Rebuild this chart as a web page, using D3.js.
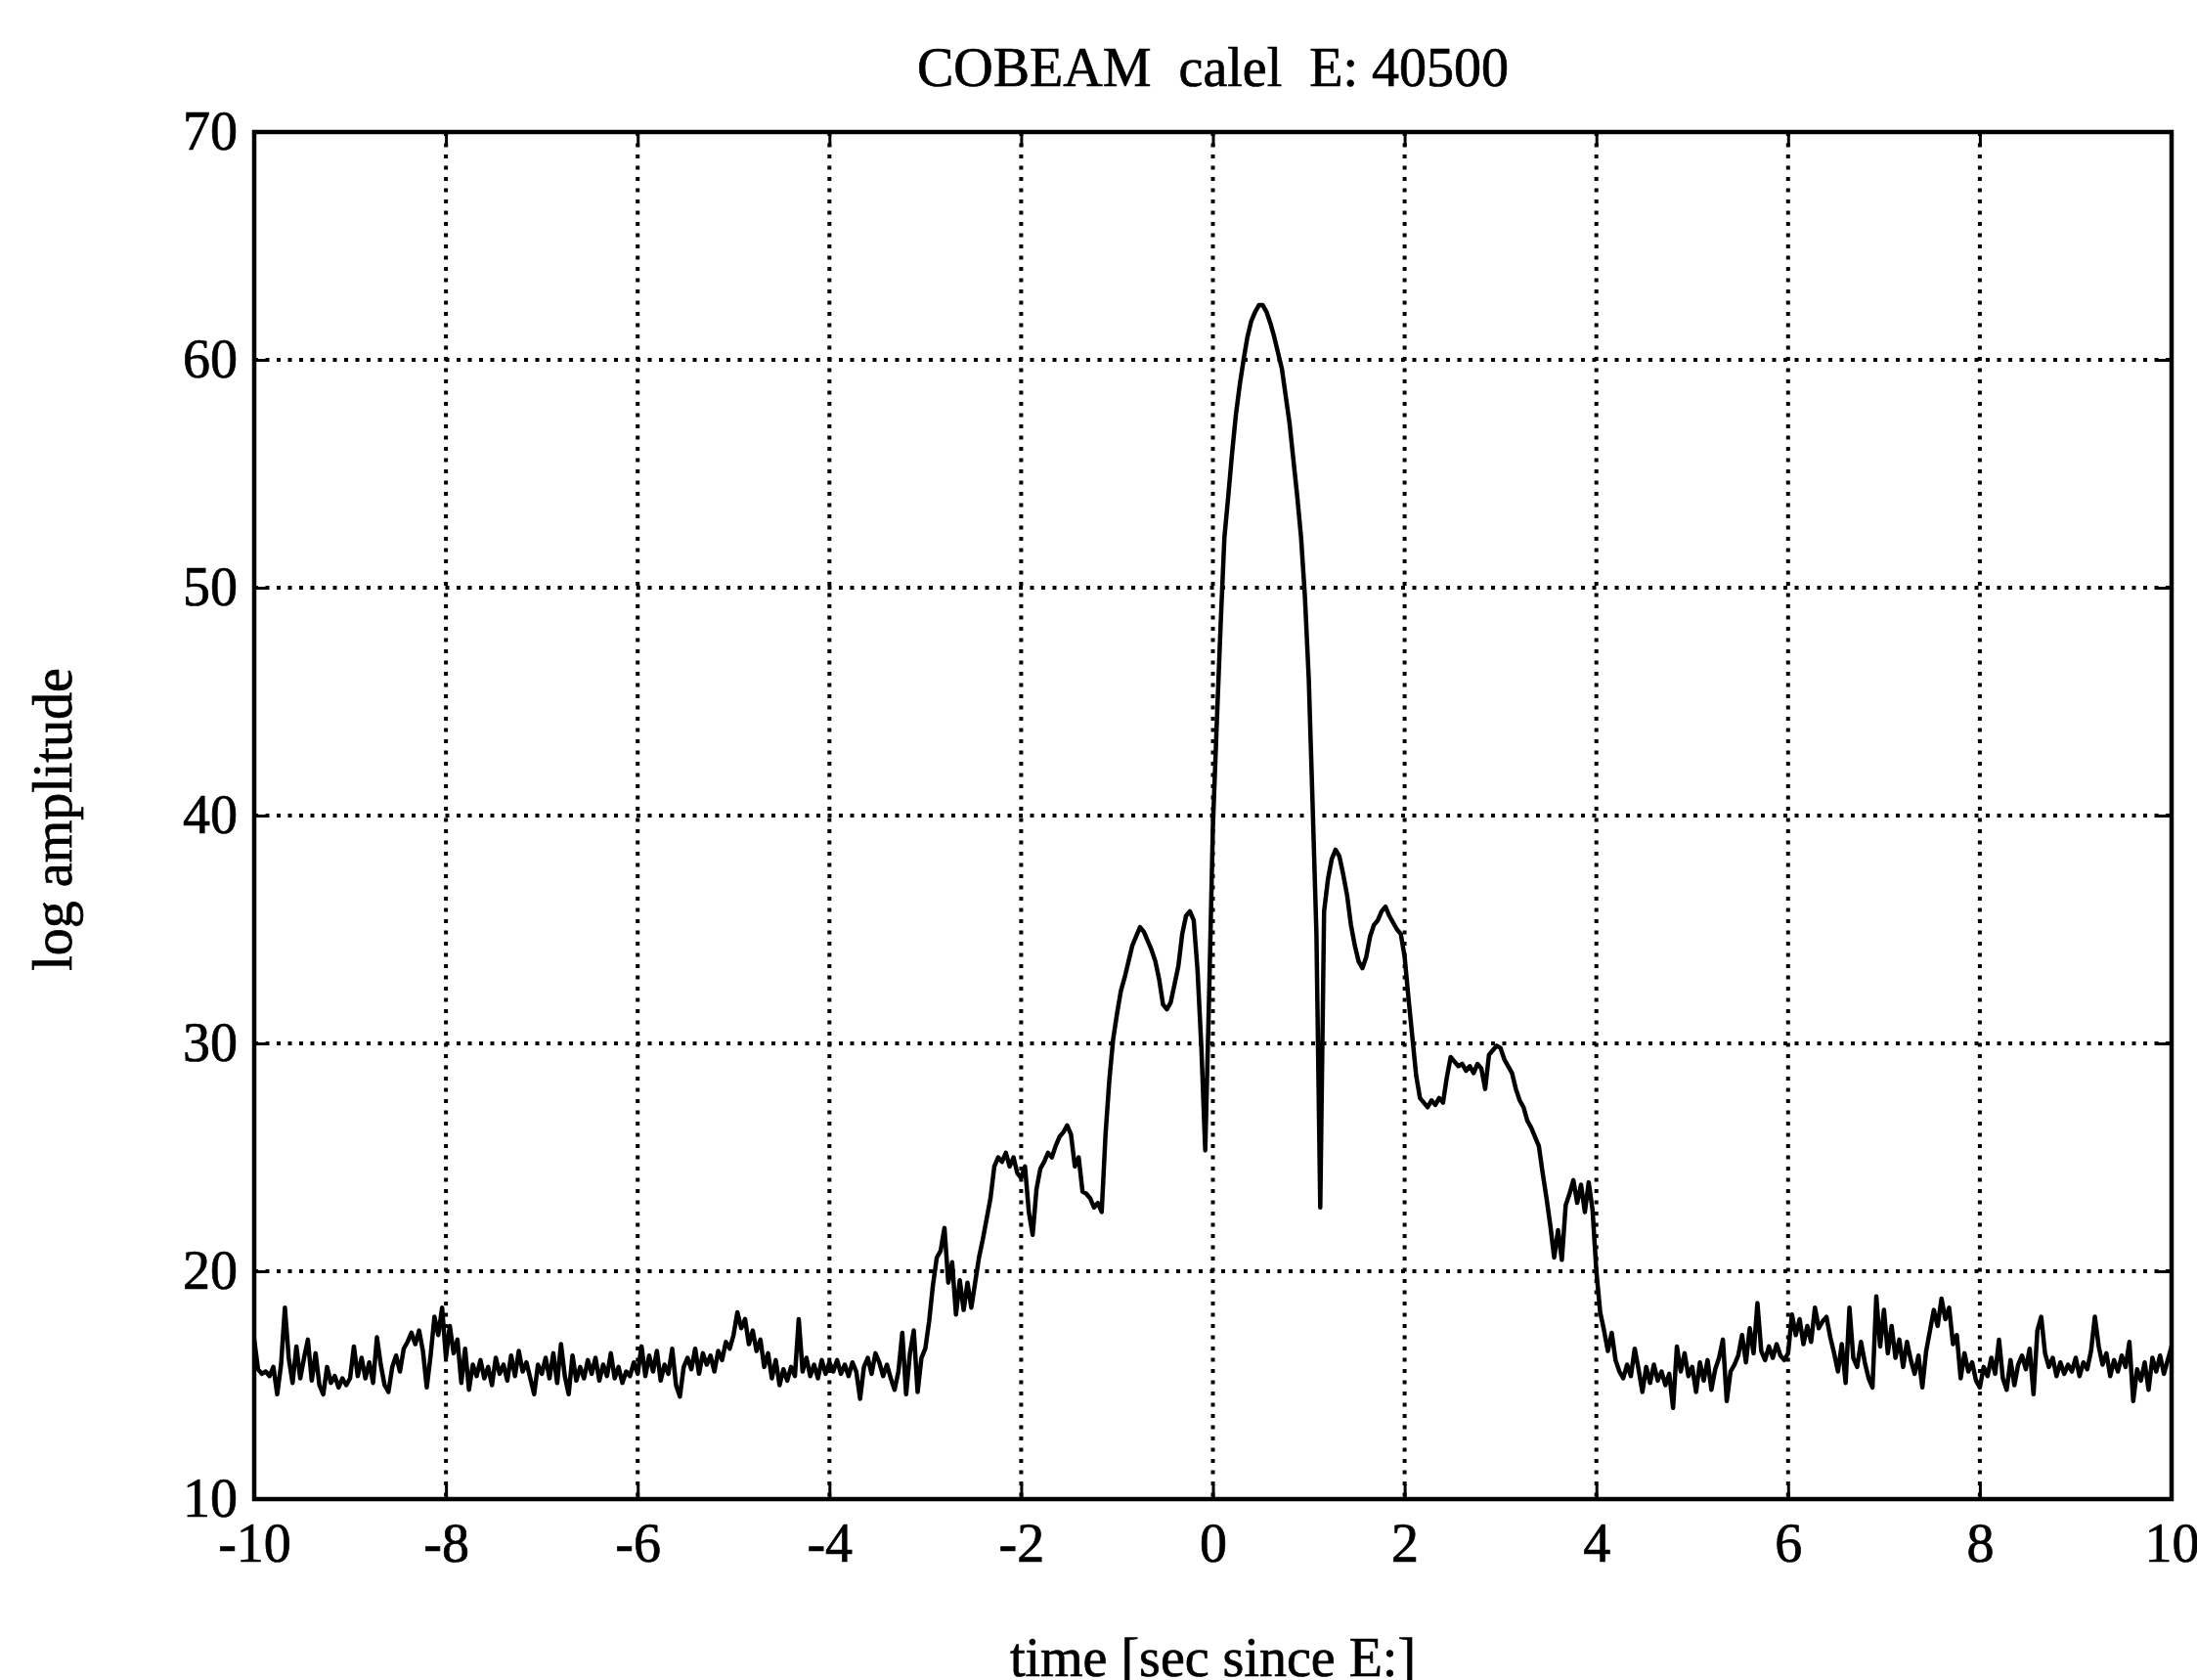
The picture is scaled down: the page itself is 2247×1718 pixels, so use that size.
<!DOCTYPE html>
<html>
<head>
<meta charset="utf-8">
<script src="https://cdnjs.cloudflare.com/ajax/libs/d3/7.8.5/d3.min.js"></script>
<style>
  body { margin: 0; background: #fff; }
  svg text { font-family: "Liberation Serif", "Times New Roman", serif; fill: #000; stroke: #000; stroke-width: 0.7px; }
</style>
</head>
<body>
<div id="chart-area"></div>
<script>

const t0 = -10, dt = 0.04;

const amp = [
    17.0, 15.7, 15.5, 15.6, 15.4, 15.8, 14.6, 15.9, 18.4, 16.2, 15.1, 16.7, 15.3, 16.2, 17.0, 15.2, 16.4, 15.0, 14.6, 15.8, 15.1, 15.4, 14.9, 15.3, 15.0,
    15.3, 16.7, 15.4, 16.2, 15.3, 16.0, 15.1, 17.1, 15.9, 15.0, 14.7, 15.8, 16.3, 15.6, 16.6, 16.9, 17.3, 16.8, 17.4, 16.5, 14.9, 16.3, 18.0, 17.2, 18.4,
    16.2, 17.6, 16.4, 17.0, 15.1, 16.6, 14.8, 15.9, 15.4, 16.1, 15.3, 15.8, 15.0, 16.2, 15.5, 15.9, 15.2, 16.3, 15.4, 16.5, 15.6, 16.0, 15.3, 14.6, 15.9,
    15.5, 16.2, 15.3, 16.4, 15.1, 16.8, 15.4, 14.6, 16.3, 15.2, 15.8, 15.3, 16.1, 15.5, 16.2, 15.2, 15.9, 15.4, 16.4, 15.3, 15.8, 15.1, 15.6, 15.4, 16.0,
    15.5, 16.7, 15.4, 16.3, 15.6, 16.5, 15.2, 15.9, 15.5, 16.6, 15.0, 14.5, 15.8, 16.2, 15.7, 16.6, 15.5, 16.4, 15.9, 16.3, 15.6, 16.5, 16.1, 16.9, 16.6,
    17.2, 18.2, 17.5, 17.9, 16.8, 17.4, 16.5, 17.0, 15.8, 16.4, 15.3, 16.1, 15.0, 15.7, 15.2, 15.8, 15.4, 17.9, 15.6, 16.2, 15.4, 15.9, 15.3, 16.1, 15.5,
    16.0, 15.6, 16.1, 15.5, 15.9, 15.4, 16.0, 15.6, 14.4, 15.8, 16.2, 15.5, 16.4, 16.0, 15.4, 15.9, 15.3, 14.8, 15.6, 17.3, 14.6, 16.4, 17.4, 14.7, 16.2,
    16.6, 17.8, 19.4, 20.6, 20.9, 21.9, 19.5, 20.4, 18.1, 19.6, 18.3, 19.5, 18.4, 19.5, 20.6, 21.4, 22.3, 23.2, 24.6, 25.0, 24.8, 25.2, 24.6, 25.0, 24.3,
    24.1, 24.6, 22.6, 21.6, 23.6, 24.5, 24.8, 25.2, 25.0, 25.5, 25.9, 26.1, 26.4, 26.0, 24.6, 25.0, 23.5, 23.4, 23.2, 22.8, 23.0, 22.6, 26.0, 28.4, 30.2,
    31.3, 32.3, 32.9, 33.6, 34.3, 34.7, 35.1, 34.9, 34.5, 34.1, 33.6, 32.8, 31.7, 31.5, 31.8, 32.6, 33.4, 34.8, 35.6, 35.8, 35.4, 33.2, 29.8, 25.3, 32.0,
    39.5, 44.0, 48.3, 52.2, 54.0, 55.9, 57.6, 58.9, 60.0, 61.0, 61.7, 62.1, 62.4, 62.4, 62.1, 61.6, 61.0, 60.3, 59.6, 58.4, 57.2, 55.6, 54.0, 52.2, 49.6,
    46.0, 40.5, 34.8, 22.8, 35.8, 37.2, 38.1, 38.5, 38.2, 37.4, 36.5, 35.2, 34.3, 33.6, 33.3, 33.8, 34.7, 35.2, 35.4, 35.8, 36.0, 35.6, 35.3, 35.0, 34.8,
    33.8, 32.0, 30.3, 28.6, 27.6, 27.4, 27.2, 27.5, 27.3, 27.6, 27.4, 28.5, 29.4, 29.2, 29.0, 29.1, 28.8, 29.0, 28.7, 29.1, 28.9, 28.0, 29.5, 29.7, 29.9,
    29.8, 29.3, 29.0, 28.7, 28.0, 27.5, 27.2, 26.6, 26.3, 25.9, 25.5, 24.3, 23.2, 22.0, 20.6, 21.8, 20.5, 22.9, 23.4, 24.0, 23.0, 23.8, 22.6, 23.9, 22.7,
    20.0, 18.2, 17.4, 16.5, 17.3, 16.1, 15.6, 15.3, 15.9, 15.4, 16.6, 15.7, 14.7, 15.8, 15.1, 15.9, 15.2, 15.6, 15.0, 15.5, 14.0, 16.7, 15.6, 16.4, 15.4,
    15.8, 14.7, 16.0, 15.2, 16.1, 14.8, 15.7, 16.2, 17.0, 14.3, 15.6, 15.9, 16.3, 17.2, 16.0, 17.5, 16.4, 18.6, 16.5, 16.1, 16.7, 16.2, 16.8, 16.3, 16.1,
    16.4, 18.1, 17.2, 17.9, 16.8, 17.6, 16.9, 18.4, 17.5, 17.8, 18.0, 17.1, 16.4, 15.6, 16.8, 15.1, 18.4, 16.2, 15.8, 16.9, 16.0, 15.3, 14.9, 18.9, 16.7,
    18.3, 16.4, 17.6, 16.2, 17.0, 15.8, 16.9, 16.1, 15.5, 16.3, 14.9, 16.5, 17.4, 18.3, 17.6, 18.8, 17.9, 18.4, 16.8, 17.2, 15.3, 16.4, 15.6, 16.0, 15.2,
    14.9, 15.8, 15.4, 16.2, 15.5, 17.0, 15.3, 14.8, 16.1, 15.0, 15.9, 16.3, 15.7, 16.6, 14.6, 17.4, 18.0, 16.4, 15.8, 16.2, 15.4, 16.0, 15.5, 15.9, 15.6,
    16.2, 15.4, 16.0, 15.7, 16.5, 18.0, 16.7, 15.9, 16.4, 15.4, 16.1, 15.6, 16.3, 15.8, 16.9, 14.3, 15.7, 15.2, 16.0, 14.8, 16.2, 15.6, 16.3, 15.5, 16.1, 16.7
];

const xTicks = [-10, -8, -6, -4, -2, 0, 2, 4, 6, 8, 10];
const yTicks = [10, 20, 30, 40, 50, 60, 70];

const titleText = "COBEAM  calel  E: 40500";
const xLabel = "time [sec since E:]";
const yLabel = "log amplitude";

// SVG drawing area
let margin = {top: 135, right: 26, bottom: 185, left: 260};

let width = 2247 - margin.left - margin.right,
    height = 1718 - margin.top - margin.bottom;

let svg = d3.select("#chart-area").append("svg")
    .attr("width", width + margin.left + margin.right)
    .attr("height", height + margin.top + margin.bottom)
  .append("g")
    .attr("transform", "translate(" + margin.left + "," + margin.top + ")");

// Scales
let x = d3.scaleLinear()
    .domain([-10, 10])
    .range([0, width]);

let y = d3.scaleLinear()
    .domain([10, 70])
    .range([height, 0]);

let fontSize = 56;

// Dotted grid (interior ticks only)
svg.append("g")
    .attr("class", "grid")
    .selectAll("line.vx")
    .data(xTicks.slice(1, -1))
    .enter().append("line")
    .attr("x1", d => x(d)).attr("x2", d => x(d))
    .attr("y1", 0).attr("y2", height);

svg.select(".grid")
    .selectAll("line.hy")
    .data(yTicks.slice(1, -1))
    .enter().append("line")
    .attr("x1", 0).attr("x2", width)
    .attr("y1", d => y(d)).attr("y2", d => y(d));

svg.selectAll(".grid line")
    .attr("stroke", "#000")
    .attr("stroke-width", 4)
    .attr("stroke-dasharray", "4,7.5");

// Trace
let line = d3.line()
    .x((d, i) => x(t0 + i * dt))
    .y(d => y(d));

svg.append("path")
    .datum(amp)
    .attr("fill", "none")
    .attr("stroke", "#000")
    .attr("stroke-width", 4.5)
    .attr("stroke-linejoin", "round")
    .attr("d", line);

// Axes with inward ticks
function styleAxis(g) {
    g.select(".domain").remove();
    g.selectAll(".tick line").attr("stroke", "#000").attr("stroke-width", 3);
    g.selectAll("text")
        .attr("fill", "#000")
        .attr("font-family", "Liberation Serif, Times New Roman, serif")
        .attr("font-size", fontSize);
}

svg.append("g")
    .attr("class", "x-axis")
    .attr("transform", `translate(0,${height})`)
    .call(d3.axisBottom(x).tickValues(xTicks).tickSize(-15).tickPadding(24).tickFormat(d => String(d)))
    .call(styleAxis);

svg.append("g")
    .attr("class", "y-axis")
    .call(d3.axisLeft(y).tickValues(yTicks).tickSize(-15).tickPadding(17).tickFormat(d => String(d)))
    .call(styleAxis);

svg.append("g")
    .call(d3.axisTop(x).tickValues(xTicks).tickSize(-15).tickFormat(""))
    .call(styleAxis);

svg.append("g")
    .attr("transform", `translate(${width},0)`)
    .call(d3.axisRight(y).tickValues(yTicks).tickSize(-15).tickFormat(""))
    .call(styleAxis);

// Frame
svg.append("rect")
    .attr("x", 0).attr("y", 0)
    .attr("width", width).attr("height", height)
    .attr("fill", "none")
    .attr("stroke", "#000")
    .attr("stroke-width", 4.5);

// Title and labels
svg.append("text")
    .attr("x", width / 2)
    .attr("y", 88 - margin.top)
    .attr("text-anchor", "middle")
    .attr("font-size", fontSize)
    .style("white-space", "pre")
    .text(titleText);

svg.append("text")
    .attr("x", width / 2)
    .attr("y", 1714 - margin.top)
    .attr("text-anchor", "middle")
    .attr("font-size", fontSize)
    .text(xLabel);

svg.append("text")
    .attr("transform", `translate(${73 - margin.left},${838 - margin.top}) rotate(-90)`)
    .attr("text-anchor", "middle")
    .attr("font-size", fontSize)
    .text(yLabel);

</script>
</body>
</html>
